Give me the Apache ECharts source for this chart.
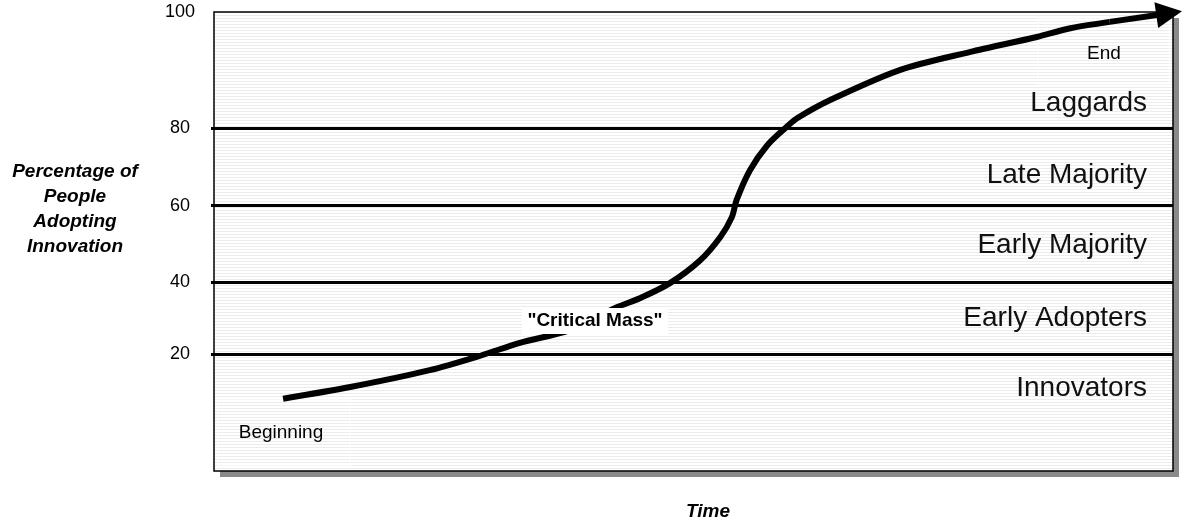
<!DOCTYPE html>
<html>
<head>
<meta charset="utf-8">
<script src="https://cdn.jsdelivr.net/npm/echarts@6/dist/echarts.min.js"></script>
<style>
html,body{margin:0;padding:0;background:#fff;}
#chart{width:1182px;height:522px;}
</style>
</head>
<body>
<div id="chart"></div>
<script>
// ---- data ----
const timeX = [7.2, 14.2, 22.5, 28.0, 31.9, 37.1, 42.0, 44.4, 47.5, 50.7, 52.8, 54.0, 54.5, 55.9, 57.7, 59.7, 60.8, 64.2, 71.5, 78.8, 85.8, 89.3, 93.4, 99.6];
const adoptionPct = [12.4, 14.4, 17.3, 19.9, 23.2, 26.7, 33.0, 35.5, 39.6, 45.7, 51.8, 57.0, 61.5, 69.2, 75.6, 80.2, 81.7, 84.8, 90.0, 93.1, 95.7, 97.2, 98.3, 99.8];
const yTicks = [20, 40, 60, 80, 100];
const yTickLabels = ['20', '40', '60', '80', '100'];
const bandLabels = ['Innovators', 'Early Adopters', 'Early Majority', 'Late Majority', 'Laggards'];
const yTitle = ['Percentage of', 'People', 'Adopting', 'Innovation'];
const xTitle = 'Time';
const startLabel = 'Beginning';
const endLabel = 'End';
const criticalLabel = '"Critical Mass"';

// ---- axis scale (piecewise, as drawn in the original) ----
const pctStops = [0, 20, 40, 60, 80, 100];
const posStops = [0, 25.4, 41.2, 57.8, 74.7, 100];
function toS(p) {
  let i = 0;
  while (i < pctStops.length - 2 && p > pctStops[i + 1]) i++;
  const t = (p - pctStops[i]) / (pctStops[i + 1] - pctStops[i]);
  return posStops[i] + t * (posStops[i + 1] - posStops[i]);
}

// ---- stripe pattern ----
const pc = document.createElement('canvas');
pc.width = 8; pc.height = 3;
const pctx = pc.getContext('2d');
pctx.fillStyle = '#ffffff'; pctx.fillRect(0, 0, 8, 3);
pctx.fillStyle = '#ececec'; pctx.fillRect(0, 0, 8, 1);

const FONT = "'Liberation Sans', Arial, sans-serif";
const G = { left: 214, top: 12, width: 959, height: 459 };

const chart = echarts.init(document.getElementById('chart'));
const tickS = yTicks.map(toS);
const curve = timeX.map((x, i) => [x, toS(adoptionPct[i])]);
const n = curve.length;

const bandY = [388, 318, 245, 175, 103];

const option = {
  animation: false,
  backgroundColor: '#fff',
  grid: { left: G.left, top: G.top, width: G.width, height: G.height, show: false },
  xAxis: {
    type: 'value', min: 0, max: 100,
    axisLine: { show: false }, axisTick: { show: false }, axisLabel: { show: false }, splitLine: { show: false }
  },
  yAxis: {
    type: 'value', min: 0, max: 100,
    axisLine: { show: false },
    splitLine: { show: false },
    axisTick: { show: true, customValues: tickS.slice(0, 4), length: 3, lineStyle: { color: '#000', width: 3 } },
    axisLabel: {
      show: true, customValues: tickS, margin: 34, align: 'center',
      fontFamily: FONT, fontSize: 18, color: '#000',
      formatter: function (v) {
        for (let i = 0; i < tickS.length; i++) if (Math.abs(tickS[i] - v) < 1e-6) return yTickLabels[i];
        return '';
      }
    }
  },
  graphic: [
    { type: 'rect', z: -10, shape: { x: G.left + 6, y: G.top + 6, width: G.width, height: G.height }, style: { fill: '#8a8a8a' } },
    { type: 'rect', z: -9, shape: { x: G.left, y: G.top, width: G.width, height: G.height }, style: { fill: { image: pc, repeat: 'repeat' }, stroke: '#000', lineWidth: 1.5 } },
    { type: 'rect', z: -8, shape: { x: 218, y: 399, width: 132, height: 67 }, style: { fill: null, stroke: '#fff', lineWidth: 1 } },
    { type: 'rect', z: -8, shape: { x: 1038, y: 18, width: 131, height: 67 }, style: { fill: null, stroke: '#fff', lineWidth: 1 } },
    { type: 'text', z: 10, x: 281, y: 433, style: { text: startLabel, font: '19px ' + FONT, fill: '#000', textAlign: 'center', textVerticalAlign: 'middle' } },
    { type: 'text', z: 10, x: 1104, y: 54, style: { text: endLabel, font: '19px ' + FONT, fill: '#000', textAlign: 'center', textVerticalAlign: 'middle' } },
    { type: 'rect', z: 10, shape: { x: 522, y: 308, width: 146, height: 26 }, style: { fill: '#fff' } },
    { type: 'text', z: 11, x: 595, y: 321, style: { text: criticalLabel, font: 'bold 19px ' + FONT, fill: '#000', textAlign: 'center', textVerticalAlign: 'middle' } },
    { type: 'text', z: 10, x: 75, y: 209, style: { text: yTitle.join('\n'), font: 'italic bold 19px ' + FONT, lineHeight: 25, fill: '#000', textAlign: 'center', textVerticalAlign: 'middle' } },
    { type: 'text', z: 10, x: 708, y: 512, style: { text: xTitle, font: 'italic bold 19px ' + FONT, fill: '#000', textAlign: 'center', textVerticalAlign: 'middle' } }
  ].concat(bandLabels.map((t, i) => ({
    type: 'text', z: 10, x: 1147, y: bandY[i],
    style: { text: t, font: '28px ' + FONT, fill: '#111', textAlign: 'right', textVerticalAlign: 'middle' }
  }))),
  series: [
    {
      type: 'line', data: [], silent: true,
      markLine: {
        silent: true, symbol: ['none', 'none'], label: { show: false },
        lineStyle: { color: '#000', width: 3, type: 'solid' },
        data: tickS.slice(0, 4).map(s => ({ yAxis: s }))
      }
    },
    {
      type: 'line', data: curve.slice(0, n - 1), smooth: 0.3, showSymbol: false, symbol: 'none',
      clip: false, silent: true, z: 5,
      lineStyle: { color: '#000', width: 6, join: 'round' }
    },
    {
      type: 'lines', coordinateSystem: 'cartesian2d', clip: false, silent: true, z: 5,
      symbol: ['none', 'triangle'], symbolSize: [22, 26],
      itemStyle: { color: '#000' },
      lineStyle: { color: '#000', width: 6, opacity: 1, curveness: 0 },
      data: [{ coords: [curve[n - 2], curve[n - 1]] }]
    }
  ]
};
chart.setOption(option);
</script>
</body>
</html>
